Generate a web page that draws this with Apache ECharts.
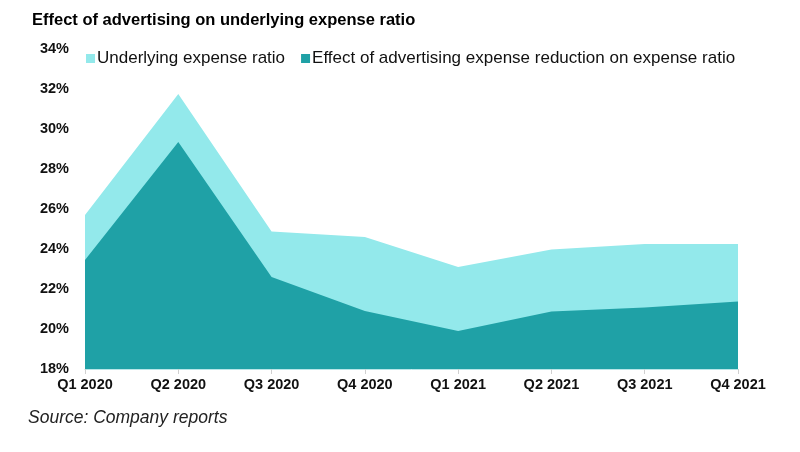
<!DOCTYPE html>
<html>
<head>
<meta charset="utf-8">
<script src="https://cdn.jsdelivr.net/npm/echarts@6/dist/echarts.min.js"></script>
<style>
html,body{margin:0;padding:0;background:#fff;}
#main{width:800px;height:452px;}
</style>
</head>
<body>
<div id="main"></div>
<script>
const categories = ['Q1 2020','Q2 2020','Q3 2020','Q4 2020','Q1 2021','Q2 2021','Q3 2021','Q4 2021'];
const underlyingRatio = [25.7, 31.75, 24.87, 24.6, 23.1, 23.97, 24.25, 24.25];
const advertisingEffect = [23.45, 29.35, 22.6, 20.9, 19.9, 20.88, 21.08, 21.38];
const seriesNames = ['Underlying expense ratio', 'Effect of advertising expense reduction on expense ratio'];

const chart = echarts.init(document.getElementById('main'), null, {renderer:'canvas'});
const font = 'Liberation Sans, Arial, sans-serif';
chart.setOption({
  animation: false,
  title: {
    text: 'Effect of advertising on underlying expense ratio',
    left: 27, top: 7,
    textStyle: {fontFamily: font, fontSize: 16.5, fontWeight: 'bold', color: '#000'}
  },
  graphic: [{
    type: 'text', left: 28, top: 409,
    style: {text: 'Source: Company reports', font: 'italic 17.5px ' + font, fill: '#222'}
  }],
  legend: {
    left: 81, top: 45,
    itemWidth: 9, itemHeight: 9, itemGap: 16,
    icon: 'rect',
    textStyle: {fontFamily: font, fontSize: 17, color: '#111', padding: [0,0,0,-3]},
    data: seriesNames
  },
  grid: {left: 85, right: 62, top: 49, bottom: 83},
  xAxis: {
    type: 'category',
    data: categories,
    boundaryGap: false,
    axisLine: {lineStyle: {color: '#b8e6e8', width: 1}},
    axisTick: {show: true, lineStyle: {color: '#d0d0d0'}, length: 5},
    axisLabel: {fontFamily: font, fontSize: 14.5, color: '#111', fontWeight: 'bold', margin: 8}
  },
  yAxis: {
    type: 'value',
    min: 18, max: 34, interval: 2,
    axisLine: {show: false},
    axisTick: {show: false},
    splitLine: {show: false},
    axisLabel: {formatter: '{value}%', fontFamily: font, fontSize: 14.5, color: '#111', fontWeight: 'bold', margin: 16}
  },
  series: [
    {
      name: seriesNames[0], type: 'line', data: underlyingRatio,
      symbol: 'none', lineStyle: {width: 0}, itemStyle: {color: '#93e9eb'},
      areaStyle: {color: '#93e9eb', opacity: 1, origin: 'start'}
    },
    {
      name: seriesNames[1], type: 'line', data: advertisingEffect,
      symbol: 'none', lineStyle: {width: 0}, itemStyle: {color: '#1fa1a6'},
      areaStyle: {color: '#1fa1a6', opacity: 1, origin: 'start'}
    }
  ]
});
</script>
</body>
</html>
